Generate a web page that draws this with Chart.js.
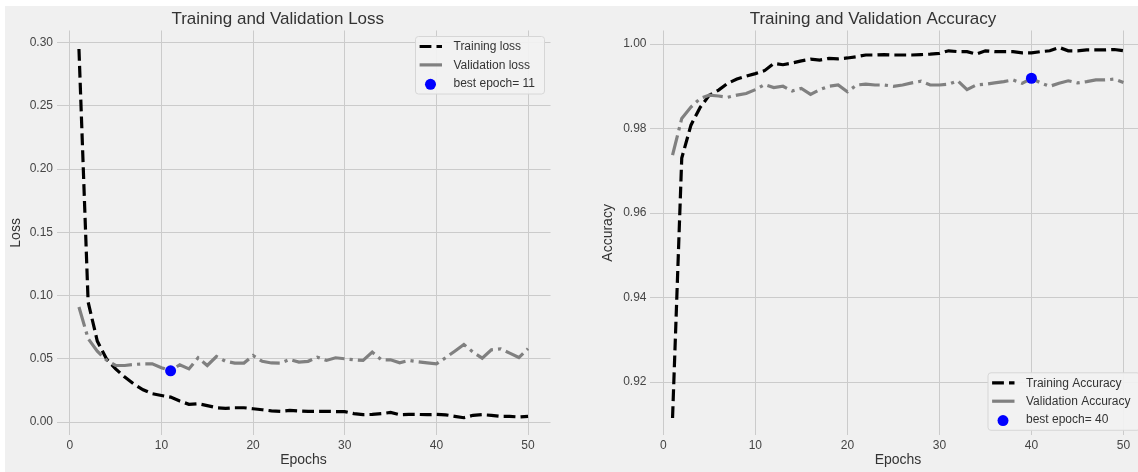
<!DOCTYPE html>
<html>
<head>
<meta charset="utf-8">
<script src="https://cdn.jsdelivr.net/npm/chart.js@4/dist/chart.umd.min.js"></script>
<style>
html,body{margin:0;padding:0;background:#ffffff;overflow:hidden;width:1138px;height:472px;}
#fig{position:absolute;left:5px;top:6px;width:1133px;height:466px;background:#f0f0f0;overflow:hidden;}
.box{position:absolute;top:0;height:466px;}
</style>
</head>
<body>
<div id="fig">
  <div class="box" style="left:0;width:595px"><canvas id="lossChart"></canvas></div>
  <div class="box" style="left:595px;width:560px"><canvas id="accChart"></canvas></div>
</div>
<script>
// ---------------- data ----------------
const epochs = [1,2,3,4,5,6,7,8,9,10,11,12,13,14,15,16,17,18,19,20,21,22,23,24,25,26,27,28,29,30,31,32,33,34,35,36,37,38,39,40,41,42,43,44,45,46,47,48,49,50];

const trainLoss = [0.295,0.095,0.064,0.050,0.042,0.0355,0.030,0.0255,0.0224,0.021,
                   0.0197,0.0166,0.014,0.0145,0.013,0.0113,0.0108,0.0113,0.0113,0.0105,
                   0.0097,0.0088,0.0084,0.0092,0.0087,0.0084,0.0084,0.0084,0.0083,0.0082,
                   0.0066,0.0058,0.006,0.0066,0.0076,0.0058,0.006,0.006,0.0058,0.006,
                   0.0057,0.0045,0.0034,0.0053,0.0058,0.0053,0.0045,0.0045,0.004,0.0045];

const valLoss = [0.091,0.066,0.056,0.049,0.0447,0.0447,0.0455,0.046,0.046,0.043,
                 0.0405,0.0453,0.042,0.0508,0.0447,0.0518,0.048,0.0466,0.0466,0.0526,
                 0.048,0.0467,0.0466,0.0495,0.0474,0.048,0.0513,0.0487,0.0508,0.050,
                 0.0492,0.0487,0.0553,0.0492,0.0492,0.0468,0.0487,0.0476,0.0468,0.046,
                 0.0508,0.056,0.0613,0.0553,0.0505,0.0571,0.0579,0.0545,0.051,0.058];

const trainAcc = [0.9115,0.973,0.9808,0.985,0.9879,0.9891,0.9907,0.9917,0.9924,0.993,
                  0.9937,0.9954,0.9951,0.9955,0.996,0.9964,0.9962,0.9966,0.9965,0.9967,
                  0.997,0.9974,0.9974,0.9975,0.9974,0.9974,0.9974,0.9975,0.9976,0.9978,
                  0.9984,0.9982,0.9982,0.9976,0.9984,0.9982,0.9982,0.9982,0.9979,0.9979,
                  0.9982,0.9984,0.9992,0.9984,0.9984,0.9986,0.9986,0.9986,0.9987,0.9984];

const valAcc = [0.9737,0.9824,0.9851,0.9871,0.9879,0.9877,0.9874,0.9879,0.9883,0.9892,
                0.9904,0.9897,0.99,0.9889,0.9895,0.9881,0.9892,0.99,0.9903,0.9887,
                0.9903,0.9905,0.9903,0.9903,0.99,0.9903,0.9908,0.9912,0.9903,0.9903,
                0.9905,0.9913,0.9892,0.9903,0.9905,0.9908,0.9911,0.9915,0.9907,0.9919,
                0.9908,0.99,0.9907,0.9913,0.9908,0.9911,0.9915,0.9915,0.9917,0.9909];

const bestLossEpoch = 11;
const bestAccEpoch = 40;

const xTicks = [0,10,20,30,40,50];
const lossTicks = [0.00,0.05,0.10,0.15,0.20,0.25,0.30];
const accTicks = [0.92,0.94,0.96,0.98,1.00];

// ---------------- styling ----------------
const FONT = '"Liberation Sans", Arial, Helvetica, sans-serif';
Chart.defaults.font.family = FONT;
Chart.defaults.color = '#444';
const GRID = '#cbcbcb';
const TRAIN_DASH = [11.8, 5.1];
const VAL_DASH = [20.5, 5.1, 3.2, 5.1];

function pts(ys){ return epochs.map((e,i)=>({x:e, y:ys[i]})); }

const mplLegend = {
  id: 'mplLegend',
  afterDraw(chart, args, o) {
    if (!o || !o.corner) return;
    const ctx = chart.ctx, a = chart.chartArea;
    const ds = chart.data.datasets;
    ctx.save();
    ctx.font = '12px ' + FONT;
    const tw = Math.max(...ds.map(d => ctx.measureText(d.label).width));
    const w = 38.5 + tw + 9, h = 57.5;
    const x = a.right - 6.5 - w;
    const y = o.corner === 'upper' ? a.top + 5.5 : a.bottom - 5.5 - h;
    ctx.beginPath();
    if (ctx.roundRect) ctx.roundRect(x + 0.5, y + 0.5, w, h, 3); else ctx.rect(x + 0.5, y + 0.5, w, h);
    ctx.fillStyle = 'rgba(242,242,242,0.92)';
    ctx.fill();
    ctx.strokeStyle = '#d6d6d6';
    ctx.lineWidth = 1;
    ctx.stroke();
    ds.forEach((d, i) => {
      const cy = y + 10.5 + i * 18.4;
      if (!d.showLine) {
        ctx.beginPath();
        ctx.arc(x + 15.5, cy + 1, 5.5, 0, Math.PI * 2);
        ctx.fillStyle = d.pointBackgroundColor;
        ctx.fill();
      } else {
        ctx.beginPath();
        ctx.setLineDash(d.legendDash || []);
        ctx.lineDashOffset = 0;
        ctx.strokeStyle = d.borderColor;
        ctx.lineWidth = d.borderWidth;
        ctx.lineCap = 'butt';
        ctx.moveTo(x + 4.6, cy);
        ctx.lineTo(x + 27, cy);
        ctx.stroke();
        ctx.setLineDash([]);
      }
      ctx.fillStyle = '#333';
      ctx.textBaseline = 'middle';
      ctx.textAlign = 'left';
      ctx.fillText(d.label, x + 38.5, cy + 0.5);
    });
    ctx.restore();
  }
};

function makeChart(id, cfg) {
  return new Chart(document.getElementById(id), {
    type: 'scatter',
    data: {
      datasets: [
        { label: cfg.trainLabel, data: pts(cfg.train), showLine: true, borderColor: '#000000',
          borderWidth: 3.2, borderDash: TRAIN_DASH, legendDash: TRAIN_DASH, pointRadius: 0, tension: 0,
          borderCapStyle: 'butt', order: 3 },
        { label: cfg.valLabel, data: pts(cfg.val), showLine: true, borderColor: '#808080',
          borderWidth: 3.2, borderDash: VAL_DASH, legendDash: [], pointRadius: 0, tension: 0,
          borderCapStyle: 'butt', order: 2 },
        { label: cfg.bestLabel, data: [{x: cfg.bestEpoch, y: cfg.val[cfg.bestEpoch - 1]}], showLine: false,
          pointRadius: 5.5, pointBackgroundColor: '#0000ff', pointBorderColor: '#0000ff', pointBorderWidth: 0, order: 1 }
      ]
    },
    options: {
      responsive: true,
      maintainAspectRatio: false,
      animation: false,
      devicePixelRatio: 1,
      events: [],
      layout: { padding: { left: 0, right: cfg.rightPad, top: 0, bottom: 0 } },
      plugins: {
        legend: { display: false },
        tooltip: { enabled: false },
        title: { display: true, text: cfg.title, color: '#333', font: { size: 17, weight: 'normal' },
                 padding: { top: 2.8, bottom: 1.3 } },
        mplLegend: { corner: cfg.corner }
      },
      scales: {
        x: {
          type: 'linear', min: -1.45, max: 52.45,
          afterBuildTicks: s => { s.ticks = xTicks.map(v => ({value: v})); },
          afterFit: s => { s.height = 36.7; },
          grid: { color: GRID, lineWidth: 1, drawTicks: false },
          border: { display: false },
          ticks: { font: { size: 12 }, color: '#444', padding: 3, maxRotation: 0 },
          title: { display: true, text: 'Epochs', color: '#333', font: { size: 14 }, padding: { top: 0, bottom: 3.6 } }
        },
        y: {
          type: 'linear', min: cfg.yMin, max: cfg.yMax,
          afterBuildTicks: s => { s.ticks = cfg.yTicks.map(v => ({value: v})); },
          afterFit: s => { s.width = cfg.yWidth; },
          grid: { color: GRID, lineWidth: 1, drawTicks: false },
          border: { display: false },
          ticks: { font: { size: 12 }, color: '#444', padding: 3.5, callback: v => Number(v).toFixed(2) },
          title: { display: true, text: cfg.yLabel, color: '#333', font: { size: 14 }, padding: { top: cfg.yTitlePad, bottom: 0 } }
        }
      }
    },
    plugins: [mplLegend]
  });
}

makeChart('lossChart', {
  title: 'Training and Validation Loss', yLabel: 'Loss',
  train: trainLoss, val: valLoss, bestEpoch: bestLossEpoch,
  trainLabel: 'Training loss', valLabel: 'Validation loss', bestLabel: 'best epoch= ' + bestLossEpoch,
  yMin: -0.0105, yMax: 0.3096, yTicks: lossTicks,
  yWidth: 51.5, rightPad: 49.5, yTitlePad: 3, corner: 'upper'
});

makeChart('accChart', {
  title: 'Training and Validation Accuracy', yLabel: 'Accuracy',
  train: trainAcc, val: valAcc, bestEpoch: bestAccEpoch,
  trainLabel: 'Training Accuracy', valLabel: 'Validation Accuracy', bestLabel: 'best epoch= ' + bestAccEpoch,
  yMin: 0.9074, yMax: 1.0032, yTicks: accTicks,
  yWidth: 50, rightPad: 14, yTitlePad: 0, corner: 'lower'
});
</script>
</body>
</html>
